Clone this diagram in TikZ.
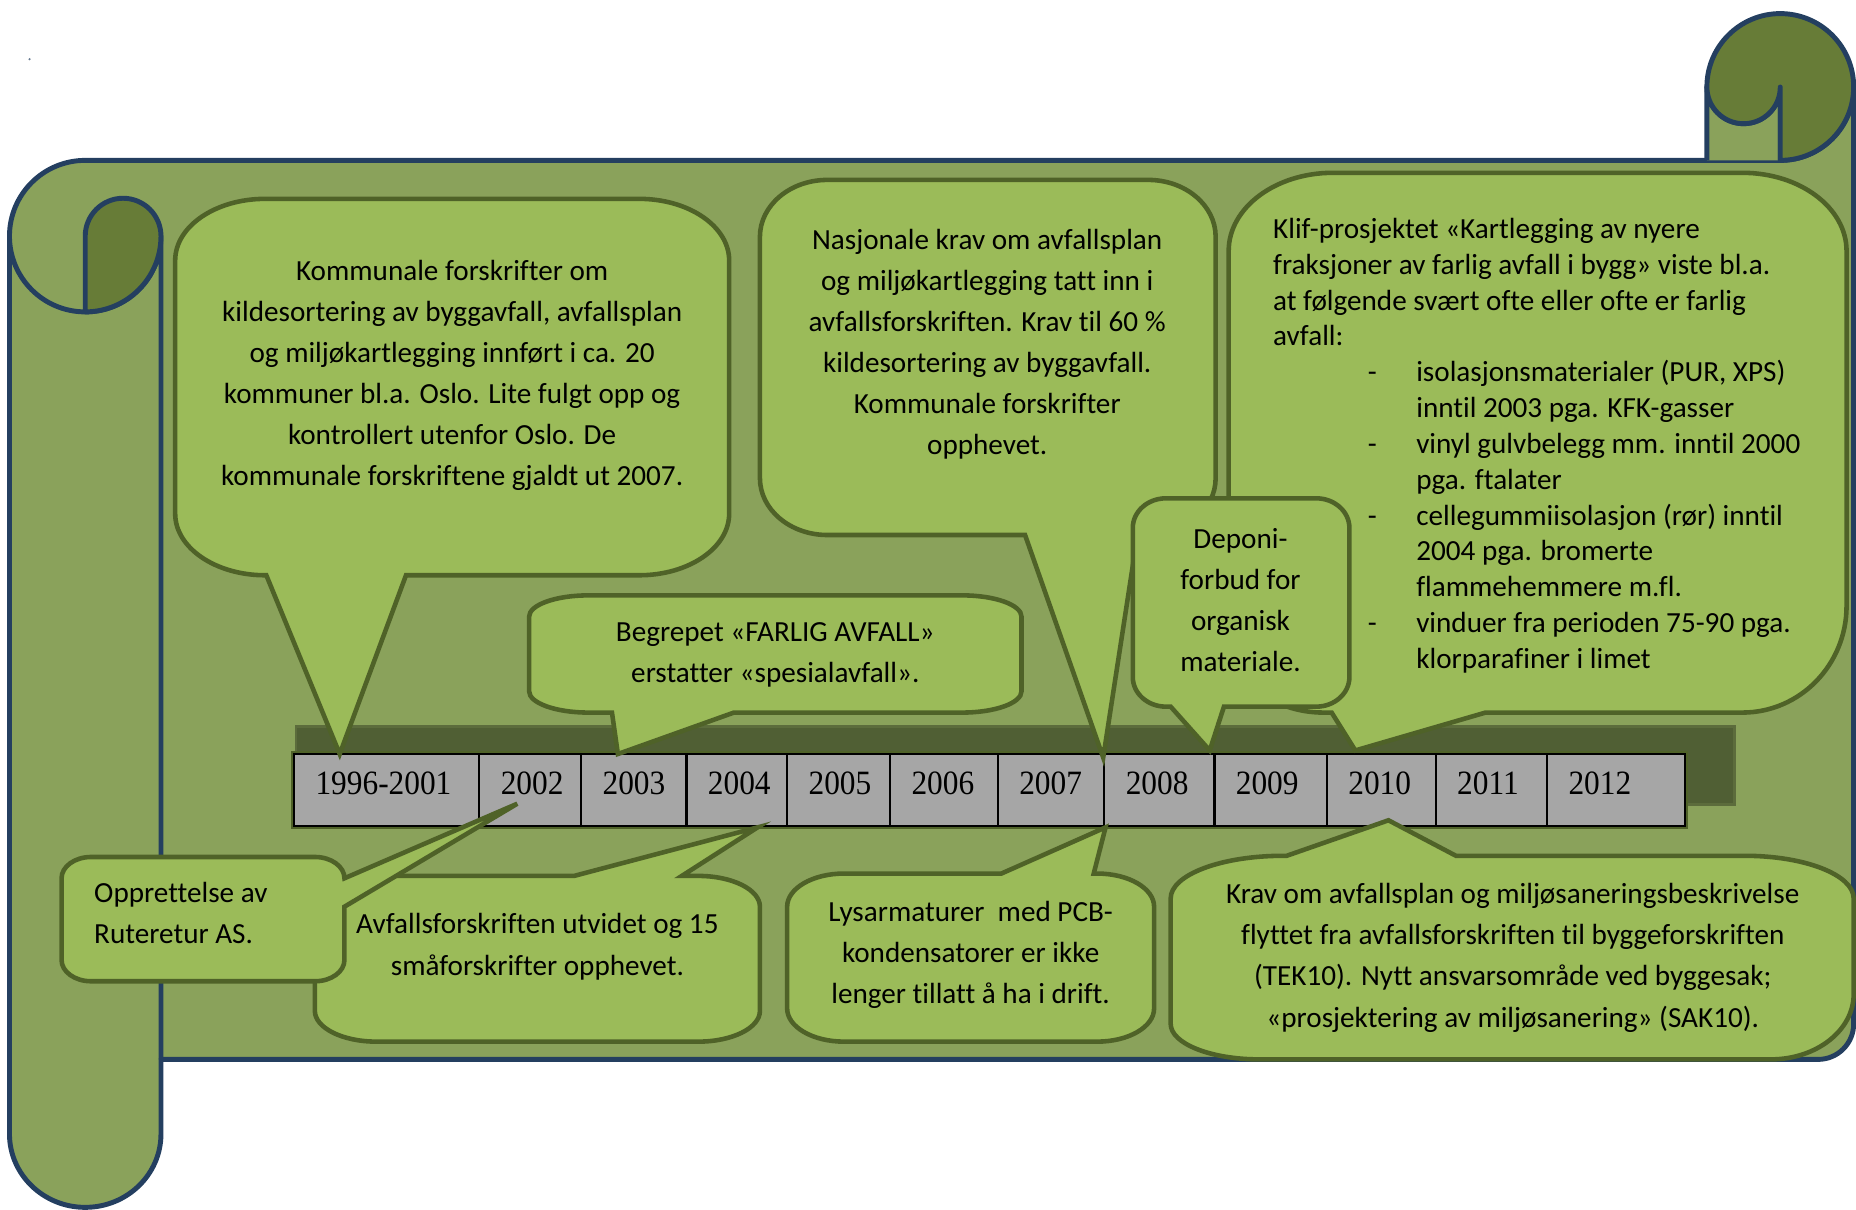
\documentclass[tikz,border=0pt]{standalone}
\usepackage{fontspec}
\setmainfont{Carlito}[Ligatures=NoCommon]
\newfontfamily\yearfont[FakeStretch=0.92]{Liberation Serif}
\usepackage{tikz}

\definecolor{bodygreen}{HTML}{8AA25B}
\definecolor{curlgreen}{HTML}{677C37}
\definecolor{scrollblue}{HTML}{243F60}
\definecolor{bubblefill}{HTML}{9BBB59}
\definecolor{bubbleline}{HTML}{4F6228}
\definecolor{barshadow}{HTML}{505F34}
\definecolor{cellgrey}{HTML}{A6A6A6}

\newcommand{\listdash}{\hspace*{0.947cm}\makebox[0.485cm][l]{-}}
\newcommand{\listcont}{\hspace*{1.432cm}}

\begin{document}
\begin{tikzpicture}[x=0.011837cm,y=0.011837cm,
  scroll/.style={draw=scrollblue,line width=1.4pt,line join=round},
  bubble/.style={draw=bubbleline,fill=bubblefill,line width=1.3pt},
  bubbletext/.style={font=\fontsize{8.3}{11.65}\selectfont,align=center,inner sep=0pt},
  listtext/.style={font=\fontsize{8.3}{10.2}\selectfont,align=left,inner sep=0pt},
  yeartext/.style={font=\yearfont\fontsize{9.7}{11}\selectfont,inner sep=0pt},
  cellbox/.style={draw=black,fill=cellgrey,line width=0.6pt}]
\useasboundingbox (0,0) rectangle (1568,-1022);

% scroll
\filldraw[scroll,fill=bodygreen] (72,-135.5) -- (1504,-135.5) arc[start angle=-90,end angle=0,radius=62] -- (1566,-865) arc[start angle=0,end angle=-90,radius=30] -- (136,-895) -- (136,-958) arc[start angle=0,end angle=-180,x radius=64,y radius=62] -- (8,-199.5) arc[start angle=180,end angle=90,radius=64] -- cycle;
\draw[scroll] (8,-199.5) arc[start angle=180,end angle=360,radius=64] -- (136,-895);
\filldraw[scroll,fill=curlgreen] (72,-263.5) -- (72,-199.5) arc[start angle=180,end angle=0,radius=32] arc[start angle=0,end angle=-90,radius=64] -- cycle;
\filldraw[scroll,fill=bodygreen] (1442,-135.5) -- (1442,-73.5) arc[start angle=180,end angle=360,radius=31] -- (1504,-135.5);
\filldraw[scroll,fill=curlgreen] (1504,-135.5) arc[start angle=-90,end angle=180,radius=62] arc[start angle=180,end angle=360,radius=31] -- cycle;
\fill[scrollblue!70] (25,-50) circle (1);

% timeline
\filldraw[fill=barshadow,draw=barshadow!80!bodygreen,line width=0.8pt] (250,-614) rectangle (1465,-680);
\draw[bubbleline,line width=1.6pt] (248.5,-637) rectangle (1423.5,-698);
\foreach \xa/\xb/\yr [count=\i] in {248.5/405/1996-2001,405/491/2002,491/580/2003,580/665/2004,665/752/2005,752/843/2006,843/933/2007,933/1026/2008,1026/1121/2009,1121/1213/2010,1213/1307/2011,1307/1423.5/2012}{
  \draw[cellbox] (\xa,-637) rectangle (\xb,-698);
  \node[yeartext,anchor=base west] (year\i) at (\xa+17.5,-671.5) {\yr};
}

% callouts above the timeline
\draw[bubble] (224,-168) -- (540,-168) arc[start angle=90,end angle=0,x radius=76,y radius=52] -- (616,-434) arc[start angle=0,end angle=-90,x radius=76,y radius=52] -- (343,-486) -- (287,-637) -- (225,-486) -- (224,-486) arc[start angle=-90,end angle=-180,x radius=76,y radius=52] -- (148,-220) arc[start angle=180,end angle=90,x radius=76,y radius=52] -- cycle;
\node[bubbletext] (kommunale) at (382,-317) {Kommunale forskrifter om\\kildesortering av byggavfall, avfallsplan\\og miljøkartlegging innført i ca. 20\\kommuner bl.a. Oslo. Lite fulgt opp og\\kontrollert utenfor Oslo. De\\kommunale forskriftene gjaldt ut 2007.};

\draw[bubble] (497,-503) -- (813,-503) arc[start angle=90,end angle=0,x radius=50,y radius=18] -- (863,-584) arc[start angle=0,end angle=-90,x radius=50,y radius=18] -- (620,-602) -- (522,-637) -- (517,-602) -- (497,-602) arc[start angle=-90,end angle=-180,x radius=50,y radius=18] -- (447,-521) arc[start angle=180,end angle=90,x radius=50,y radius=18] -- cycle;
\node[bubbletext] (begrepet) at (655,-553) {Begrepet «FARLIG AVFALL»\\erstatter «spesialavfall».};

\draw[bubble] (699,-152) -- (970,-152) arc[start angle=90,end angle=0,x radius=57,y radius=48] -- (1027,-404) arc[start angle=0,end angle=-90,x radius=57,y radius=48] -- (961,-452) -- (932,-640) -- (866,-452) -- (699,-452) arc[start angle=-90,end angle=-180,x radius=57,y radius=48] -- (642,-200) arc[start angle=180,end angle=90,x radius=57,y radius=48] -- cycle;
\node[bubbletext] (nasjonale) at (834,-291) {Nasjonale krav om avfallsplan\\og miljøkartlegging tatt inn i\\avfallsforskriften. Krav til 60 \%\\kildesortering av byggavfall.\\Kommunale forskrifter\\opphevet.};

\draw[bubble] (1126,-146) -- (1472,-146) arc[start angle=90,end angle=0,x radius=88,y radius=66] -- (1560,-512) arc[start angle=0,end angle=-90,x radius=88,y radius=90] -- (1255,-602) -- (1145,-634) -- (1125,-602) -- (1118,-602) arc[start angle=-90,end angle=-180,x radius=80,y radius=66] -- (1038,-212) arc[start angle=180,end angle=90,x radius=88,y radius=66] -- cycle;
\node[listtext,anchor=west] (klif) at (1075,-376.5) {Klif-prosjektet «Kartlegging av nyere\\fraksjoner av farlig avfall i bygg» viste bl.a.\\at følgende svært ofte eller ofte er farlig\\avfall:\\\listdash isolasjonsmaterialer (PUR, XPS)\\\listcont inntil 2003 pga. KFK-gasser\\\listdash vinyl gulvbelegg mm. inntil 2000\\\listcont pga. ftalater\\\listdash cellegummiisolasjon (rør) inntil\\\listcont 2004 pga. bromerte\\\listcont flammehemmere m.fl.\\\listdash vinduer fra perioden 75-90 pga.\\\listcont klorparafiner i limet};

\draw[bubble] (985,-421) -- (1112,-421) arc[start angle=90,end angle=0,x radius=28,y radius=25] -- (1140,-572) arc[start angle=0,end angle=-90,x radius=28,y radius=25] -- (1034,-597) -- (1022,-634) -- (989,-597) -- (985,-597) arc[start angle=-90,end angle=-180,x radius=28,y radius=25] -- (957,-446) arc[start angle=180,end angle=90,x radius=28,y radius=25] -- cycle;
\node[bubbletext] (deponi) at (1048,-507) {Deponi-\\forbud for\\organisk\\materiale.};

% callouts below the timeline
\draw[bubble] (318,-740) -- (485,-740) -- (640,-699) -- (576,-740) -- (590,-740) arc[start angle=90,end angle=0,x radius=52,y radius=26] -- (642,-854) arc[start angle=0,end angle=-90,x radius=52,y radius=26] -- (318,-880) arc[start angle=-90,end angle=-180,x radius=52,y radius=26] -- (266,-766) arc[start angle=180,end angle=90,x radius=52,y radius=26] -- cycle;
\node[bubbletext,font=\fontsize{8.3}{12.1}\selectfont] (avfall) at (454,-800) {Avfallsforskriften utvidet og 15\\småforskrifter opphevet.};

\draw[bubble] (77,-724) -- (266,-724) arc[start angle=90,end angle=0,x radius=25,y radius=18] -- (437,-679) -- (291,-766) -- (291,-811) arc[start angle=0,end angle=-90,x radius=25,y radius=18] -- (77,-829) arc[start angle=-90,end angle=-180,x radius=25,y radius=18] -- (52,-742) arc[start angle=180,end angle=90,x radius=25,y radius=18] -- cycle;
\node[bubbletext,align=left,anchor=west] (ruteretur) at (79,-771) {Opprettelse av\\Ruteretur AS.};

\draw[bubble] (713,-738) -- (846,-738) -- (934,-699) -- (924,-738) -- (927,-738) arc[start angle=90,end angle=0,x radius=48,y radius=28] -- (975,-852) arc[start angle=0,end angle=-90,x radius=48,y radius=28] -- (713,-880) arc[start angle=-90,end angle=-180,x radius=48,y radius=28] -- (665,-766) arc[start angle=180,end angle=90,x radius=48,y radius=28] -- cycle;
\node[bubbletext] (lysarmatur) at (820,-806.5) {Lysarmaturer\ \ med PCB-\\kondensatorer er ikke\\lenger tillatt å ha i drift.};

\draw[bubble] (1084,-723) -- (1087,-723) -- (1173,-693) -- (1230,-723) -- (1474,-723) arc[start angle=90,end angle=0,x radius=92,y radius=36] -- (1566,-840) arc[start angle=0,end angle=-90,x radius=70,y radius=55] -- (1064,-895) arc[start angle=-90,end angle=-180,x radius=75,y radius=30] -- (989,-759) arc[start angle=180,end angle=90,x radius=95,y radius=36] -- cycle;
\node[bubbletext,font=\fontsize{8.3}{11.8}\selectfont] (krav) at (1278,-809) {Krav om avfallsplan og miljøsaneringsbeskrivelse\\flyttet fra avfallsforskriften til byggeforskriften\\(TEK10). Nytt ansvarsområde ved byggesak;\\«prosjektering av miljøsanering» (SAK10).};
\end{tikzpicture}
\end{document}
